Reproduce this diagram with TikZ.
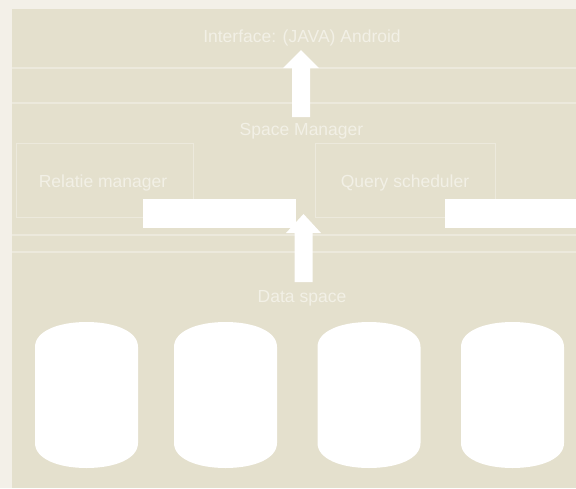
\documentclass[tikz,border=0pt]{standalone}
\usepackage{fontspec}
\setmainfont{Liberation Sans}
\definecolor{pagebg}{RGB}{243,240,232}
\definecolor{panel}{RGB}{228,224,205}
\definecolor{rule}{RGB}{236,233,220}
\definecolor{labeltext}{RGB}{242,240,230}
\begin{document}
\begin{tikzpicture}[x=1pt,y=-1pt,
  label/.style={inner sep=0pt,anchor=base,text=labeltext,
    font=\fontsize{17.5}{21}\selectfont},
  module/.style={draw=rule,line width=1pt},
  divider/.style={draw=rule,line width=1.5pt},
  blockarrow/.style={fill=white},
  bar/.style={fill=white},
  disk/.style={fill=white}]
% page and panel
\fill[pagebg] (0,0) rectangle (576,488);
\useasboundingbox (0,0) rectangle (576,488);
\fill[panel] (12,9) rectangle (576,488);
% layer dividers
\draw[divider] (12,68) -- (576,68);
\draw[divider] (12,103) -- (576,103);
\draw[divider] (12,235) -- (576,235);
\draw[divider] (12,252) -- (576,252);
% modules of the space manager
\draw[module] (16,143) rectangle (193,217);
\draw[module] (315,143) rectangle (495,217);
% labels
\node[label] (iface) at (302,42) {Interface: (JAVA) Android};
\node[label] (space) at (301.5,135) {Space Manager};
\node[label] (relatie) at (103,187) {Relatie manager};
\node[label] (query) at (405,187) {Query scheduler};
\node[label] (data) at (302,302) {Data space};
% white bars
\fill[bar] (143,199) rectangle (296,228);
\fill[bar] (445,199) rectangle (576,228);
% block arrows
\fill[blockarrow] (292,117) -- (292,68) -- (283,68) -- (301,50)
  -- (319,68) -- (310,68) -- (310,117) -- cycle;
\fill[blockarrow] (294.5,282) -- (294.5,233) -- (286,233) -- (303.5,214)
  -- (321,233) -- (312.5,233) -- (312.5,282) -- cycle;
% data stores: cans with rounded caps
\foreach \cx in {86.5,225.5,369,512.5}{
  \fill[disk] (\cx-51.5,347)
    .. controls (\cx-51.5,331) and (\cx-28,322) .. (\cx,322)
    .. controls (\cx+28,322) and (\cx+51.5,331) .. (\cx+51.5,347)
    -- (\cx+51.5,443)
    .. controls (\cx+51.5,459) and (\cx+28,468) .. (\cx,468)
    .. controls (\cx-28,468) and (\cx-51.5,459) .. (\cx-51.5,443)
    -- cycle;
}
\end{tikzpicture}
\end{document}
